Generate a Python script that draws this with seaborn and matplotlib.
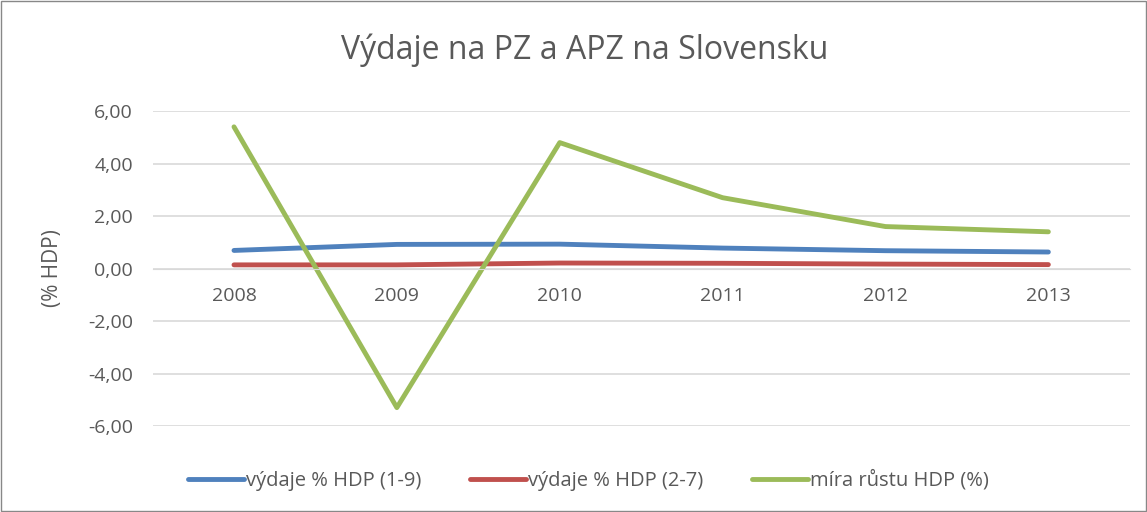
import pandas as pd
import numpy as np
import matplotlib.pyplot as plt
import seaborn as sns
from matplotlib.patches import Rectangle
from matplotlib.ticker import FuncFormatter

# values
years = ['2008', '2009', '2010', '2011', '2012', '2013']
vydaje_1_9 = [0.69, 0.92, 0.93, 0.78, 0.68, 0.63]
vydaje_2_7 = [0.14, 0.14, 0.21, 0.20, 0.17, 0.15]
rast_hdp = [5.4, -5.3, 4.8, 2.7, 1.6, 1.4]

series_names = ['výdaje % HDP (1-9)', 'výdaje % HDP (2-7)', 'míra růstu HDP (%)']
colors = ['#4F81BD', '#C0504D', '#9BBB59']

df = pd.DataFrame({
    'rok': years * 3,
    'hodnota': vydaje_1_9 + vydaje_2_7 + rast_hdp,
    'seria': [series_names[0]] * 6 + [series_names[1]] * 6 + [series_names[2]] * 6,
})

sns.set_style('white')
plt.rcParams['font.family'] = ['Open Sans', 'DejaVu Sans']
txt = '#595959'

fig = plt.figure(figsize=(11.47, 5.12), dpi=100)
ax = fig.add_axes([0.133, 0.168, 0.852, 0.615])

sns.lineplot(data=df, x='rok', y='hodnota', hue='seria', palette=colors,
             linewidth=3.5, ax=ax, sort=False, legend=False)

ax.set_xlim(-0.5, 5.5)
ax.set_ylim(-6, 6)
ax.set_yticks(np.arange(-6, 7, 2))
ax.yaxis.set_major_formatter(FuncFormatter(lambda v, p: f'{v:.2f}'.replace('.', ',')))
ax.grid(axis='y', color='#D9D9D9', linewidth=1.2)
ax.set_axisbelow(True)
for s in ['top', 'right', 'left']:
    ax.spines[s].set_visible(False)
ax.spines['bottom'].set_position(('data', 0))
ax.spines['bottom'].set_color('#D9D9D9')
ax.tick_params(axis='both', length=0, labelsize=14, labelcolor=txt)
ax.tick_params(axis='x', pad=13)
ax.tick_params(axis='y', pad=14)
ax.set_xlabel('')
ax.set_ylabel('(% HDP)', fontsize=15, color=txt, labelpad=18)

fig.suptitle('Výdaje na PZ a APZ na Slovensku', fontsize=23, color=txt, x=0.51, y=0.935)

handles = [plt.Line2D([], [], color=c, linewidth=3.5) for c in colors]
fig.legend(handles, series_names, loc='center', bbox_to_anchor=(0.513, 0.062), ncol=3,
           frameon=False, fontsize=14.5, labelcolor=txt, handlelength=2.8,
           handletextpad=0.1, columnspacing=2.4)

fig.patches.append(Rectangle((0.001, 0.002), 0.998, 0.996, transform=fig.transFigure,
                             fill=False, edgecolor='#888888', linewidth=1))

fig.savefig('out.png', dpi=100)
